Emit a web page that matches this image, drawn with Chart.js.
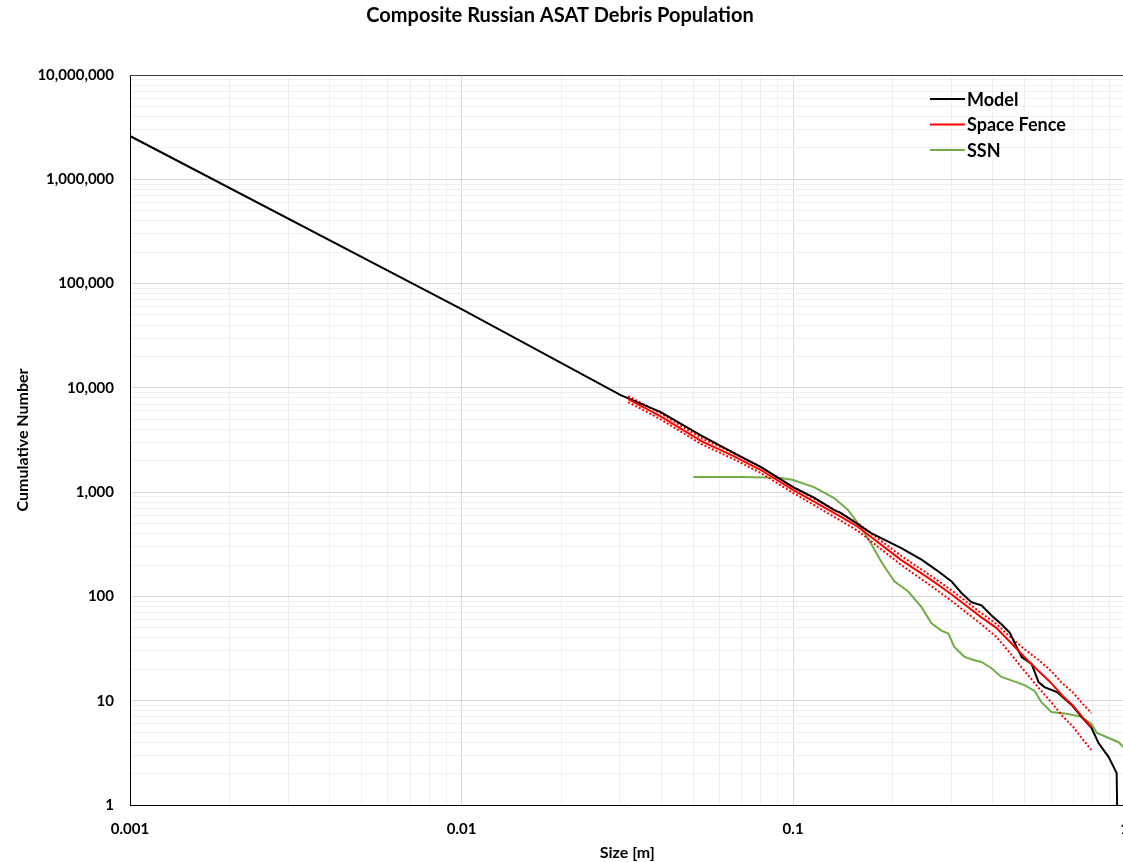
<!DOCTYPE html>
<html>
<head>
<meta charset="utf-8">
<script src="https://cdn.jsdelivr.net/npm/chart.js@4.4.1/dist/chart.umd.min.js"></script>
<style>
    html, body { margin: 0; padding: 0; background: #fff; overflow: hidden; }
    #wrap { width: 1144px; height: 862px; }
</style>
</head>
<body>
<div id="wrap"><canvas id="asat-chart"></canvas></div>
<script>

/* DATA */

var chartTitle = 'Composite Russian ASAT Debris Population';
var xTickLabels = ['0.001', '0.01', '0.1', '1'];
var yTickLabels = ['1', '10', '100', '1,000', '10,000', '100,000', '1,000,000', '10,000,000'];

// Model
var modelSize  = [0.001, 0.01, 0.0302, 0.0399, 0.0527, 0.0664, 0.080, 0.1, 0.116, 0.133, 0.1396, 0.172, 0.212, 0.244, 0.27, 0.30, 0.322, 0.345, 0.37, 0.396, 0.425, 0.45, 0.489, 0.524, 0.550, 0.573, 0.625, 0.692, 0.741, 0.794, 0.834, 0.895, 0.946, 0.949];
var modelCount = [2600000, 57000, 8500, 5860, 3500, 2371, 1740, 1119, 880, 673, 630, 405, 290, 225, 180, 140, 108, 88, 82, 66, 54, 45, 26.2, 22.5, 15.1, 13.5, 12.1, 9.1, 7.0, 5.5, 3.93, 2.88, 2.03, 1];

// Space Fence (solid) and its dotted bounds
var sfSize  = [0.0318, 0.04, 0.0527, 0.0664, 0.08, 0.1, 0.14, 0.157, 0.212, 0.261, 0.30, 0.37, 0.41, 0.45, 0.50, 0.55, 0.60, 0.65, 0.70, 0.75, 0.794];
var sfCount = [7800, 5300, 3100, 2200, 1630, 1050, 577, 463, 223, 144, 105, 63, 50, 37, 26, 19.3, 14.8, 11.1, 8.9, 6.8, 5.6];
var sfUpper = [8340, 5670, 3310, 2350, 1740, 1120, 623, 500, 244, 157, 115, 69, 54.6, 41.3, 31, 24.6, 19.3, 14.6, 11.9, 9.2, 7.6];
var sfLower = [7300, 4960, 2900, 2060, 1525, 982, 528, 424, 200, 126, 91, 54, 41, 29, 19.1, 13.3, 9.7, 7.1, 5.6, 4.2, 3.37];

// SSN
var ssnSize  = [0.05, 0.07, 0.084, 0.092, 0.1, 0.1156, 0.133, 0.1466, 0.160, 0.1714, 0.1845, 0.202, 0.222, 0.244, 0.261, 0.28, 0.294, 0.306, 0.328, 0.35, 0.37, 0.396, 0.425, 0.46, 0.499, 0.535, 0.561, 0.601, 0.668, 0.741, 0.794, 0.825, 0.959, 1.0];
var ssnCount = [1400, 1400, 1385, 1365, 1306, 1119, 878, 673, 463, 325, 215, 140, 112, 79, 55.6, 47, 44, 33, 26.5, 24.6, 23.5, 20.6, 16.9, 15.5, 14.1, 12.4, 9.7, 7.8, 7.5, 7.0, 6.0, 4.9, 4.0, 3.5];

/* HELPERS */

function toPoints(xs, ys) {
    return xs.map(function (x, i) { return { x: x, y: ys[i] }; });
}

function isDecade(v) {
    var l = Math.log10(v);
    return Math.abs(l - Math.round(l)) < 1e-9;
}

// ticks 1..9 for every decade between min and max exponent
function logTicks(minExp, maxExp) {
    var ticks = [];
    for (var e = minExp; e < maxExp; e++) {
        for (var k = 1; k <= 9; k++) {
            ticks.push({ value: Number((k * Math.pow(10, e)).toPrecision(3)) });
        }
    }
    ticks.push({ value: Math.pow(10, maxExp) });
    return ticks;
}

var gridColor = function (ctx) {
    if (ctx.tick && isDecade(ctx.tick.value)) return '#d9d9d9';
    return '#f0f0f0';
};

var FONT = 'Lato, "Open Sans", sans-serif';

/* PLUGINS */

// title, top frame line and legend
var framePlugin = {
    id: 'frame',
    afterDraw: function (chart) {
        var a = chart.chartArea;
        var c = chart.ctx;
        c.save();

        c.fillStyle = '#000';
        c.font = 'bold 20px ' + FONT;
        c.textAlign = 'center';
        c.textBaseline = 'middle';
        c.fillText(chartTitle, 560, 16);

        c.strokeStyle = '#404040';
        c.lineWidth = 1;
        c.beginPath();
        c.moveTo(a.left, a.top + 0.5);
        c.lineTo(a.right, a.top + 0.5);
        c.stroke();

        var items = [
            { text: 'Model', color: '#000000' },
            { text: 'Space Fence', color: '#ff0000' },
            { text: 'SSN', color: '#70ad47' }
        ];
        c.font = 'bold 18px ' + FONT;
        c.textAlign = 'left';
        items.forEach(function (it, i) {
            var y = a.top + 24 + i * 25.5;
            c.strokeStyle = it.color;
            c.lineWidth = 2;
            c.beginPath();
            c.moveTo(930, y);
            c.lineTo(965, y);
            c.stroke();
            c.fillStyle = '#000';
            c.fillText(it.text, 967, y + 1);
        });
        c.restore();
    }
};

/* CHART */

var ctx = document.getElementById('asat-chart').getContext('2d');

var chart = new Chart(ctx, {
    type: 'line',
    data: {
        datasets: [
            {
                label: 'Model',
                data: toPoints(modelSize, modelCount),
                borderColor: '#000000',
                borderWidth: 2,
                pointRadius: 0,
                tension: 0,
                order: 1
            },
            {
                label: 'Space Fence upper',
                data: toPoints(sfSize, sfUpper),
                borderColor: '#ff0000',
                borderWidth: 2,
                borderDash: [2, 2],
                pointRadius: 0,
                tension: 0,
                order: 2
            },
            {
                label: 'Space Fence lower',
                data: toPoints(sfSize, sfLower),
                borderColor: '#ff0000',
                borderWidth: 2,
                borderDash: [2, 2],
                pointRadius: 0,
                tension: 0,
                order: 2
            },
            {
                label: 'Space Fence',
                data: toPoints(sfSize, sfCount),
                borderColor: '#ff0000',
                borderWidth: 2,
                pointRadius: 0,
                tension: 0,
                order: 0
            },
            {
                label: 'SSN',
                data: toPoints(ssnSize, ssnCount),
                borderColor: '#70ad47',
                borderWidth: 2,
                pointRadius: 0,
                tension: 0,
                order: 3
            }
        ]
    },
    options: {
        responsive: true,
        maintainAspectRatio: false,
        animation: false,
        layout: { padding: { top: 75, left: 0, right: 0, bottom: 0 } },
        scales: {
            x: {
                type: 'logarithmic',
                min: 0.001,
                max: 1,
                afterBuildTicks: function (scale) { scale.ticks = logTicks(-3, 0); },
                afterFit: function (scale) { scale.height = 57; },
                grid: { color: gridColor, drawTicks: false },
                border: { display: true, color: '#000000', width: 1 },
                ticks: {
                    autoSkip: false,
                    maxRotation: 0,
                    padding: 15,
                    color: '#000',
                    font: { family: FONT, size: 15, weight: 'bold' },
                    callback: function (value) {
                        if (!isDecade(value)) return '';
                        return xTickLabels[Math.round(Math.log10(value)) + 3];
                    }
                },
                title: {
                    display: true,
                    text: 'Size [m]',
                    color: '#000',
                    padding: { top: 0, bottom: 0 },
                    font: { family: FONT, size: 16, weight: 'bold' }
                }
            },
            y: {
                type: 'logarithmic',
                min: 1,
                max: 10000000,
                afterBuildTicks: function (scale) { scale.ticks = logTicks(0, 7); },
                afterFit: function (scale) { scale.width = 130; },
                grid: { color: gridColor, drawTicks: false },
                border: { display: true, color: '#000000', width: 1 },
                ticks: {
                    autoSkip: false,
                    padding: 16,
                    color: '#000',
                    font: { family: FONT, size: 15, weight: 'bold' },
                    callback: function (value) {
                        if (!isDecade(value)) return '';
                        return yTickLabels[Math.round(Math.log10(value))];
                    }
                },
                title: {
                    display: true,
                    text: 'Cumulative Number',
                    color: '#000',
                    padding: { top: 13, bottom: 0 },
                    font: { family: FONT, size: 16, weight: 'bold' }
                }
            }
        },
        plugins: {
            legend: { display: false },
            tooltip: { enabled: false },
            title: { display: false }
        }
    },
    plugins: [framePlugin]
});
</script>
</body>
</html>
